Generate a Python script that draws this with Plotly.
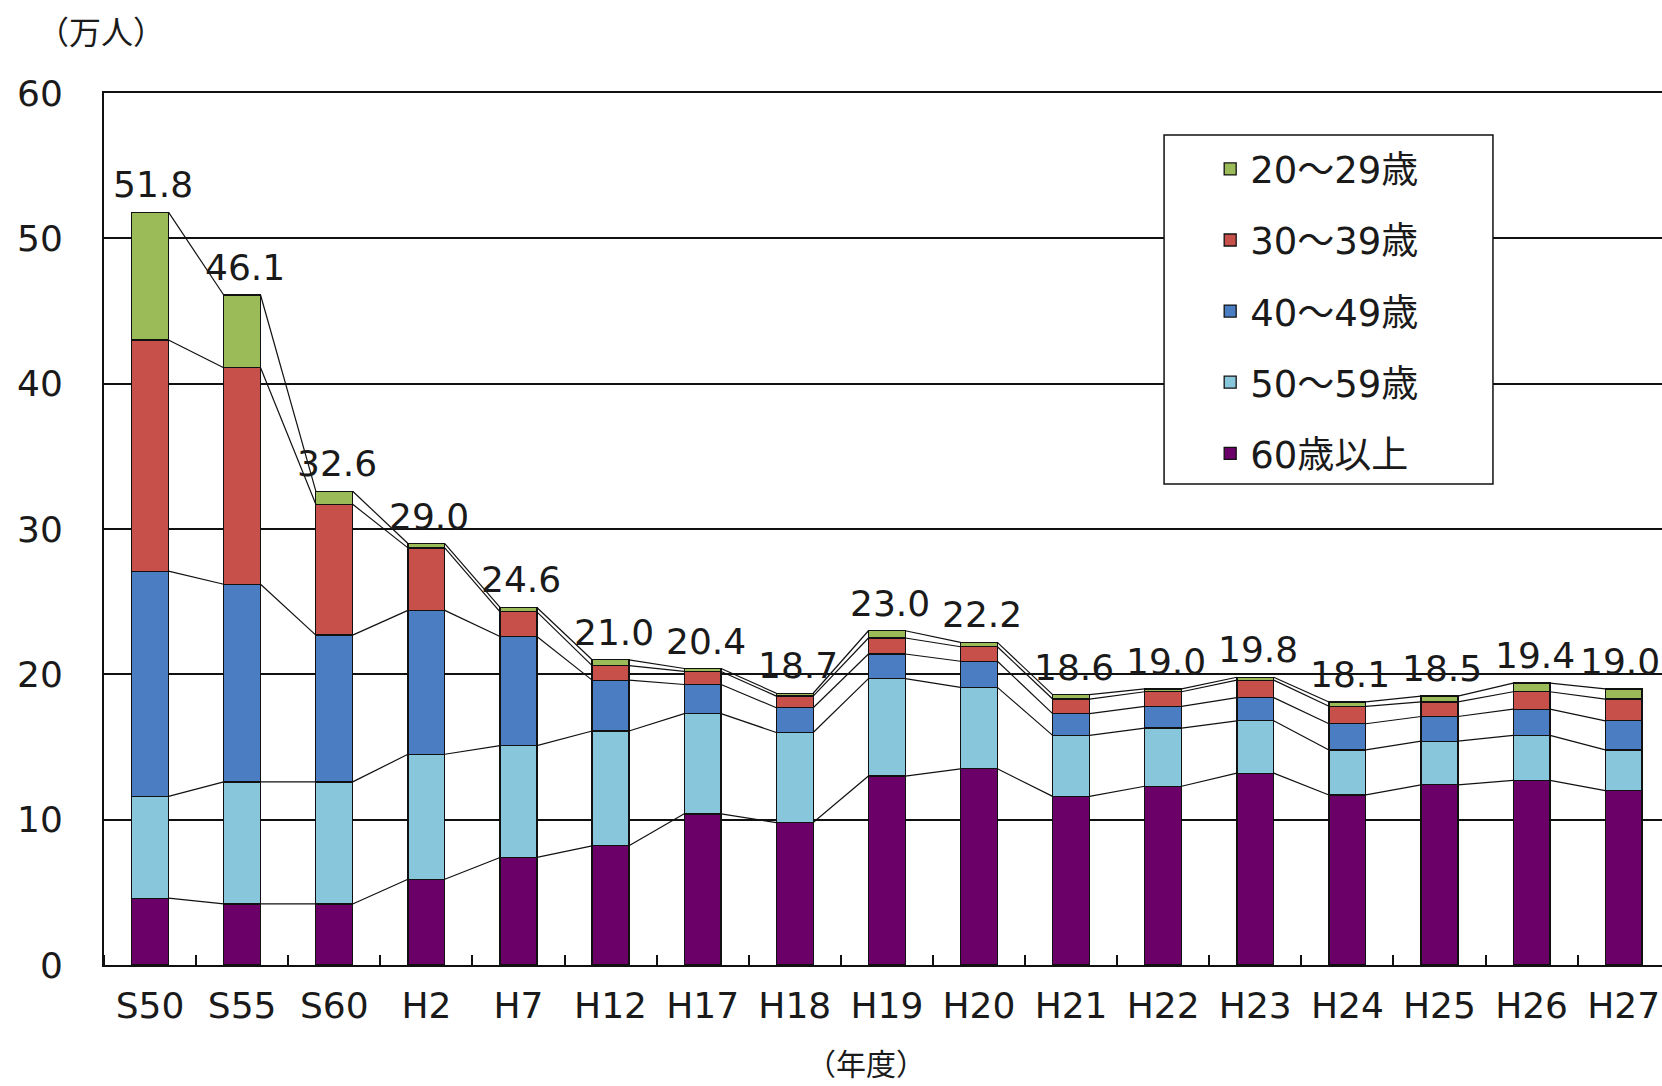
import plotly.graph_objects as go

categories = ["S50", "S55", "S60", "H2", "H7", "H12", "H17", "H18", "H19", "H20",
              "H21", "H22", "H23", "H24", "H25", "H26", "H27"]
age_60_plus = [4.6, 4.2, 4.2, 5.9, 7.4, 8.2, 10.4, 9.8, 13.0, 13.5, 11.6, 12.3, 13.2, 11.7, 12.4, 12.7, 12.0]
age_50s = [7.0, 8.4, 8.4, 8.6, 7.7, 7.9, 6.9, 6.2, 6.7, 5.6, 4.2, 4.0, 3.6, 3.1, 3.0, 3.1, 2.8]
age_40s = [15.5, 13.6, 10.1, 9.9, 7.5, 3.5, 2.0, 1.7, 1.7, 1.8, 1.5, 1.5, 1.6, 1.8, 1.7, 1.8, 2.0]
age_30s = [15.9, 14.9, 9.0, 4.3, 1.7, 1.0, 0.9, 0.8, 1.1, 1.0, 1.0, 1.0, 1.2, 1.2, 1.0, 1.2, 1.5]
age_20s = [8.8, 5.0, 0.9, 0.3, 0.3, 0.4, 0.2, 0.2, 0.5, 0.3, 0.3, 0.2, 0.2, 0.3, 0.4, 0.6, 0.7]
total_labels = ["51.8", "46.1", "32.6", "29.0", "24.6", "21.0", "20.4", "18.7", "23.0", "22.2",
                "18.6", "19.0", "19.8", "18.1", "18.5", "19.4", "19.0"]
series_names = ["60歳以上", "50～59歳", "40～49歳", "30～39歳", "20～29歳"]
y_ticks = [0, 10, 20, 30, 40, 50, 60]

series_values = [age_60_plus, age_50s, age_40s, age_30s, age_20s]
colors = ["#6A0068", "#88C6DC", "#4A7DC2", "#C8504B", "#9BBB59"]

FONT = "DejaVu Sans, Noto Sans CJK JP, sans-serif"
TXT = "#1a1a1a"
BW = 0.4
xs = list(range(len(categories)))

fig = go.Figure()
n_series = len(series_names)
for k, (name, vals, col) in enumerate(zip(series_names, series_values, colors)):
    fig.add_trace(go.Bar(
        x=xs, y=vals, name=name, width=BW, legendgroup=name,
        legendrank=n_series - k,
        marker=dict(color=col, line=dict(color="#111", width=1.3)),
    ))

# series (connector) lines between stacked segment boundaries
cum = [0.0] * len(categories)
for vals in series_values:
    cum = [c + v for c, v in zip(cum, vals)]
    lx, ly = [], []
    for i in range(len(categories) - 1):
        lx += [i + BW / 2, i + 1 - BW / 2, None]
        ly += [cum[i], cum[i + 1], None]
    fig.add_trace(go.Scatter(x=lx, y=ly, mode="lines", showlegend=False,
                             hoverinfo="skip", line=dict(color="#111", width=1.2)))

last = len(total_labels) - 1
for i, lab in enumerate(total_labels):
    fig.add_annotation(x=i, y=cum[i], text=lab, showarrow=False,
                       xanchor="right" if i == last else "center",
                       yanchor="bottom",
                       xshift=38 if i == last else 3, yshift=5,
                       font=dict(family=FONT, size=36, color=TXT))

fig.add_annotation(xref="paper", yref="paper", x=-0.002, y=1.069, text="（万人）",
                   showarrow=False, xanchor="center", yanchor="middle",
                   font=dict(family=FONT, size=32, color=TXT))
fig.add_annotation(xref="paper", yref="paper", x=0.489, y=-0.136, text="（年度）",
                   showarrow=False, xanchor="center", yanchor="bottom",
                   font=dict(family=FONT, size=30, color=TXT))

# legend frame
fig.add_shape(type="rect", xref="paper", yref="paper", x0=0.6804, x1=0.8915,
              y0=0.5516, y1=0.9518, layer="above",
              line=dict(color="#111", width=1.5), fillcolor="white")

fig.update_layout(
    width=1662, height=1086,
    margin=dict(l=104, r=0, t=93, b=121),
    paper_bgcolor="white", plot_bgcolor="white",
    barmode="stack",
    showlegend=True,
    legend=dict(x=0.71, y=0.948, xanchor="left", yanchor="top",
                traceorder="grouped", tracegroupgap=20,
                bgcolor="rgba(0,0,0,0)", borderwidth=0,
                font=dict(family=FONT, size=37, color=TXT)),
    font=dict(family=FONT, size=36, color=TXT),
    xaxis=dict(range=[-0.5, 16.416], tickmode="array", tickvals=xs, ticktext=categories,
               ticks="", showgrid=False, zeroline=False,
               showline=True, linecolor="#111", linewidth=2, mirror=True,
               ticklabelstandoff=8,
               tickfont=dict(family=FONT, size=36, color=TXT),
               minor=dict(ticks="inside", tick0=0.5, dtick=1, ticklen=10,
                          tickcolor="#111", tickwidth=1.5, showgrid=False)),
    yaxis=dict(range=[0, 60], tickmode="array", tickvals=y_ticks, ticks="",
               showgrid=True, gridcolor="#111", gridwidth=1.5, zeroline=False,
               showline=True, linecolor="#111", linewidth=2,
               ticklabelstandoff=32,
               tickfont=dict(family=FONT, size=36, color=TXT)),
)

fig.write_html("out.html")
